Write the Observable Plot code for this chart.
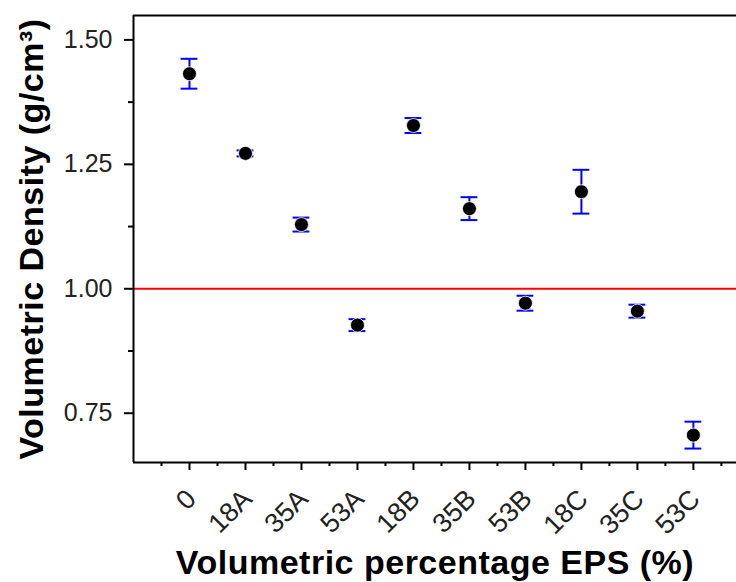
<!DOCTYPE html>
<html>
<head>
<meta charset="utf-8">
<script src="https://cdn.jsdelivr.net/npm/d3@7"></script>
<script src="https://cdn.jsdelivr.net/npm/@observablehq/plot@0.6"></script>
<style>
  html, body { margin: 0; padding: 0; background: #fff; }
  svg { display: block; }
</style>
</head>
<body>
<div id="chart"></div>
<script>
// Data
const categories = ["0", "18A", "35A", "53A", "18B", "35B", "53B", "18C", "35C", "53C"];
const density = [1.432, 1.272, 1.129, 0.927, 1.328, 1.161, 0.971, 1.195, 0.955, 0.706];
const errors = [0.030, 0.006, 0.014, 0.012, 0.015, 0.023, 0.015, 0.044, 0.013, 0.027];
const yTicks = [0.75, 1.00, 1.25, 1.50];
const yMinorTicks = [0.875, 1.125, 1.375];
const referenceLine = 1.00;
const xTitle = "Volumetric percentage EPS (%)";
const yTitle = "Volumetric Density (g/cm³)";

const xDomain = [-1, 9.77];
const yDomain = [0.651, 1.549];

const data = categories.map((c, i) => ({ i, cat: c, v: density[i], e: errors[i] }));
const xMajor = categories.map((c, i) => i);
const xMinor = categories.map((c, i) => i - 0.5).concat([categories.length - 0.5]);

const font = "'Liberation Sans', Arial, sans-serif";

const chart = Plot.plot({
  width: 736,
  height: 582,
  marginLeft: 133,
  marginRight: 0,
  marginTop: 15,
  marginBottom: 120,
  style: { fontFamily: font, background: "#fff", color: "#222" },
  x: { type: "linear", domain: xDomain },
  y: { type: "linear", domain: yDomain },
  marks: [
    Plot.ruleY([yDomain[1]], { stroke: "#000", strokeWidth: 2 }),
    Plot.ruleY([referenceLine], { stroke: "#ff0000", strokeWidth: 2 }),
    Plot.ruleX(data, { x: "i", y1: d => d.v - d.e, y2: d => d.v + d.e, stroke: "#0000ff", strokeWidth: 2 }),
    Plot.ruleY(data, { y: d => d.v - d.e, x1: d => d.i - 0.15, x2: d => d.i + 0.15, stroke: "#0000ff", strokeWidth: 2 }),
    Plot.ruleY(data, { y: d => d.v + d.e, x1: d => d.i - 0.15, x2: d => d.i + 0.15, stroke: "#0000ff", strokeWidth: 2 }),
    Plot.dot(data, { x: "i", y: "v", r: 7, fill: "#000", stroke: "#fff", strokeWidth: 0.8 }),
    Plot.axisY(yTicks, {
      tickSize: 9, tickPadding: 12, strokeWidth: 2, stroke: "#000",
      tickFormat: d => d.toFixed(2), fontSize: 25, fill: "#222", label: null
    }),
    Plot.axisY(yMinorTicks, { tickSize: 5, strokeWidth: 2, stroke: "#000", tickFormat: () => "", label: null }),
    Plot.axisX(xMajor, {
      tickSize: 8, strokeWidth: 2, stroke: "#000", label: null, tickFormat: () => ""
    }),
    Plot.axisX(xMajor, {
      tickSize: 0, tickPadding: 14, dx: 2, dy: 18,
      tickFormat: i => categories[i], tickRotate: -45, fontSize: 27, fill: "#222", label: null
    }),
    Plot.axisX(xMinor, { tickSize: 4, strokeWidth: 2, stroke: "#000", tickFormat: () => "", label: null }),
    Plot.ruleX([xDomain[0]], { stroke: "#000", strokeWidth: 2 }),
    Plot.ruleY([yDomain[0]], { stroke: "#000", strokeWidth: 2 }),
    Plot.text([xTitle], {
      frameAnchor: "bottom", dy: 101, text: d => d, fontSize: 34, fontWeight: "bold",
      fill: "#000", lineAnchor: "middle", textAnchor: "middle"
    }),
    Plot.text([yTitle], {
      frameAnchor: "left", dx: -101, rotate: -90, text: d => d, fontSize: 34, fontWeight: "bold",
      fill: "#000", lineAnchor: "middle", textAnchor: "middle"
    })
  ]
});

document.getElementById("chart").appendChild(chart);
// letter spacing for the bold titles (styling only)
d3.select(chart).selectAll("text").filter(function () { return this.textContent === xTitle || this.textContent === yTitle; })
  .style("letter-spacing", "0.5px");
</script>
</body>
</html>
